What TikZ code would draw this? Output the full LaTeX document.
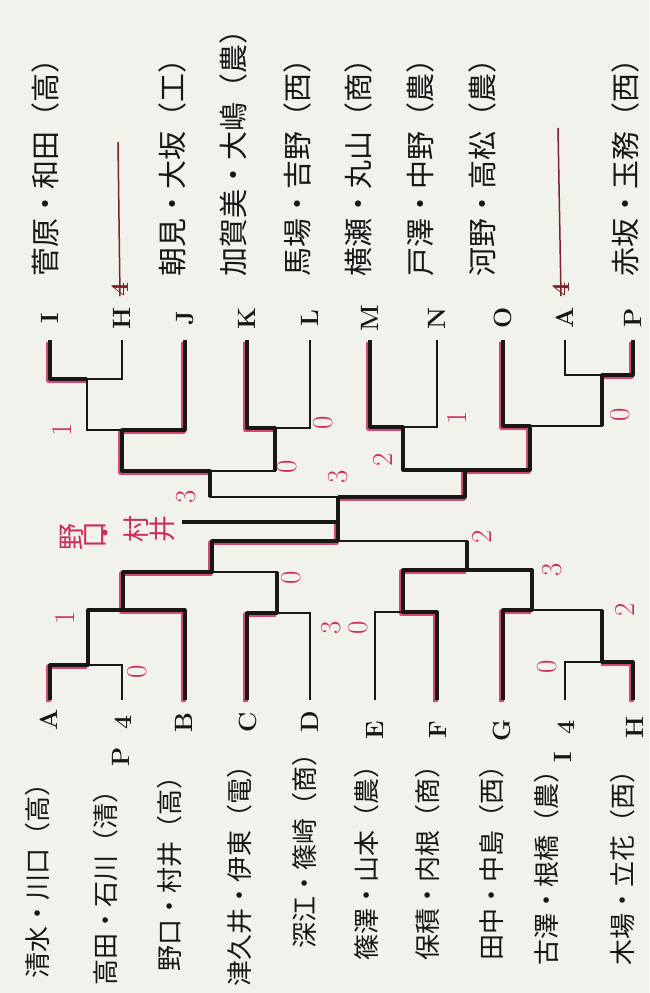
\documentclass[tikz,border=0pt]{standalone}
\usepackage{fontspec}
\newfontfamily\jp{Noto Sans CJK JP}
\definecolor{papel}{RGB}{241,242,235}
\definecolor{tinta}{RGB}{25,22,22}
\definecolor{rosa}{RGB}{205,45,90}
\definecolor{granate}{RGB}{120,35,40}
\tikzset{
  linea/.style={tinta, line width=1.6pt},
  gana/.style={tinta, line width=3.2pt, line join=round},
  marca/.style={rosa, line width=5pt, line join=round, opacity=.85,
    transform canvas={xshift=-1.5pt, yshift=-1.5pt}},
  letra/.style={rotate=90, tinta, inner sep=0pt, font=\fontsize{25}{25}\selectfont\bfseries},
  nombre/.style={rotate=90, tinta, inner sep=0pt, font=\jp\fontsize{26}{26}\selectfont},
  tanto/.style={rotate=90, rosa, inner sep=0pt, font=\fontsize{29}{29}\selectfont},
}
\begin{document}
\begin{tikzpicture}[x=1pt, y=-1pt]
    \useasboundingbox (0,0) rectangle (649,993);
    \fill[papel] (0,0) rectangle (649,993);

    % puntas de las ramas: arriba en y=340, abajo en y=700
    \foreach \n/\x in {I/50, H/122, J/185, K/247, L/310, M/370, N/437, O/503, A/565, P/633}
        \coordinate (u\n) at (\x,340);
    \foreach \n/\x in {A/50, P/122, B/185, C/247, D/310, E/375, F/437, G/503, I/565, H/633}
        \coordinate (d\n) at (\x,700);

    % cruces: x de la rama que sale, y de la barra
    \coordinate (uIH) at (87,379);   \coordinate (uIJ) at (122,430);
    \coordinate (uKL) at (275,428);  \coordinate (uIL) at (210,471);
    \coordinate (uMN) at (403,427);  \coordinate (uAP) at (602,375);
    \coordinate (uOP) at (530,426);  \coordinate (uMP) at (465,470);
    \coordinate (ufin) at (338,497);
    \coordinate (dAP) at (88,665);   \coordinate (dAB) at (123,610);
    \coordinate (dCD) at (277,613);  \coordinate (dAD) at (212,572);
    \coordinate (dEF) at (403,612);  \coordinate (dIH) at (602,662);
    \coordinate (dGH) at (532,610);  \coordinate (dEH) at (467,570);
    \coordinate (dfin) at (338,541);
    \coordinate (centro) at (338,522);
    \coordinate (campeon) at (182,522);

    % marcador rojo de los ganadores
    \draw[marca] (uI) |- (uIH);
    \draw[marca] (uJ) |- (uIJ) |- (uIL);
    \draw[marca] (uK) |- (uKL);
    \draw[marca] (uM) |- (uMN);
    \draw[marca] (uP) |- (uAP);
    \draw[marca] (uO) |- (uOP) |- (uMP) |- (ufin);
    \draw[marca] (dA) |- (dAP);
    \draw[marca] (dB) |- (dAB) |- (dAD) |- (dfin) -- (centro);
    \draw[marca] (dC) |- (dCD);
    \draw[marca] (dF) |- (dEF) |- (dEH);
    \draw[marca] (dH) |- (dIH);
    \draw[marca] (dG) |- (dGH);

    % cuadro completo
    \draw[linea] (uI) |- (uIH) -| (uH);
    \draw[linea] (uIH) |- (uIJ) -| (uJ);
    \draw[linea] (uK) |- (uKL) -| (uL);
    \draw[linea] (uIJ) |- (uIL) -| (uKL);
    \draw[linea] (uM) |- (uMN) -| (uN);
    \draw[linea] (uA) |- (uAP) -| (uP);
    \draw[linea] (uO) |- (uOP) -| (uAP);
    \draw[linea] (uMN) |- (uMP) -| (uOP);
    \draw[linea] (uIL) |- (ufin) -| (uMP);
    \draw[linea] (dA) |- (dAP) -| (dP);
    \draw[linea] (dAP) |- (dAB) -| (dB);
    \draw[linea] (dC) |- (dCD) -| (dD);
    \draw[linea] (dAB) |- (dAD) -| (dCD);
    \draw[linea] (dE) |- (dEF) -| (dF);
    \draw[linea] (dI) |- (dIH) -| (dH);
    \draw[linea] (dG) |- (dGH) -| (dIH);
    \draw[linea] (dEF) |- (dEH) -| (dGH);
    \draw[linea] (dAD) |- (dfin) -| (dEH);

    % trazos gruesos de tinta
    \draw[gana] (uI) |- (uIH);
    \draw[gana] (uJ) |- (uIJ) |- (uIL) -- (uIL |- ufin);
    \draw[gana] (uK) |- (uKL) -- (uKL |- uIL);
    \draw[gana] (uM) |- (uMN) |- (uMP);
    \draw[gana] (uP) |- (uAP) -- (uAP |- uOP);
    \draw[gana] (uO) |- (uOP) |- (uMP) |- (ufin);
    \draw[gana] (ufin) -- (dfin);
    \draw[gana] (centro) -- (campeon);
    \draw[gana] (dA) |- (dAP) |- (dAB);
    \draw[gana] (dB) |- (dAB) |- (dAD) |- (dfin);
    \draw[gana] (dC) |- (dCD) -- (dCD |- dAD);
    \draw[gana] (dF) |- (dEF) |- (dEH) -- (dEH |- dfin);
    \draw[gana] (dH) |- (dIH) -- (dIH |- dGH);
    \draw[gana] (dG) |- (dGH) |- (dEH);

    % letras de las ramas
    \foreach \n/\x in {I/50, H/122, J/185, K/247, L/310, M/370, N/437, O/503, A/565, P/633}
        \node[letra] (lu\n) at (\x,318) {\n};
    \foreach \n/\x/\y in {A/49/720, B/184/722, C/248/722, D/310/722, E/375/730, F/438/730, G/502/730, H/635/727}
        \node[letra] (ld\n) at (\x,\y) {\n};
    \node[letra] (ldP) at (121,757) {P};
    \node[letra] (ldP4) at (123,722) {4};
    \node[letra] (ldI) at (563,757) {I};
    \node[letra] (ldI4) at (566,727) {4};
    \node[letra, granate] (luH4) at (120,289) {4};
    \node[letra, granate] (luA4) at (561,289) {4};
    \coordinate (raH) at (118,142);
    \coordinate (raA) at (558,128);
    \draw[granate, line width=1.5pt] (luH4.west) -- (raH);
    \draw[granate, line width=1.5pt] (luA4.west) -- (raA);

    % parejas de arriba (se leen hacia arriba)
    \foreach \n/\x/\t in {I/45/菅原・和田（高）, J/172/朝見・大坂（工）, K/233/加賀美・大嶋（農）,
        L/297/馬場・吉野（西）, M/358/横瀬・丸山（商）, N/420/戸澤・中野（農）,
        O/482/河野・高松（農）, P/625/赤坂・玉務（西）}
        \node[nombre, anchor=west, font=\jp\fontsize{29}{29}\selectfont] (nu\n) at (\x,277) {\t};
    % parejas de abajo
    \foreach \n/\x/\y/\t in {A/38/770/清水・川口（高）, P/106/777/高田・石川（清）,
        B/170/763/野口・村井（高）, C/240/752/津久井・伊東（電）, D/305/740/深江・篠崎（商）,
        E/367/752/篠澤・山本（農）, F/428/752/保積・内根（商）, G/492/752/田中・中島（西）,
        I/547/757/古澤・根橋（農）, H/623/757/木場・立花（西）}
        \node[nombre, anchor=east] (nd\n) at (\x,\y) {\t};

    % tantos en rojo
    \foreach \s/\x/\y [count=\i] in {1/62/430, 0/323/423, 0/287/467, 3/186/497, 3/338/477,
        2/383/460, 1/457/418, 0/620/415, 1/65/618, 0/137/672, 0/291/578, 3/331/628,
        0/358/628, 2/482/537, 3/552/570, 2/625/610, 0/547/667}
        \node[tanto] (t\i) at (\x,\y) {\s};

    % campeones escritos en rojo
    \foreach \c/\x/\y [count=\i] in {野/72/537, 口/95/535, ・/109/533, 村/136/529, 井/162/529}
        \node[rotate=90, rosa, inner sep=0pt, font=\jp\fontsize{27}{27}\selectfont] (cam\i) at (\x,\y) {\c};
\end{tikzpicture}
\end{document}
